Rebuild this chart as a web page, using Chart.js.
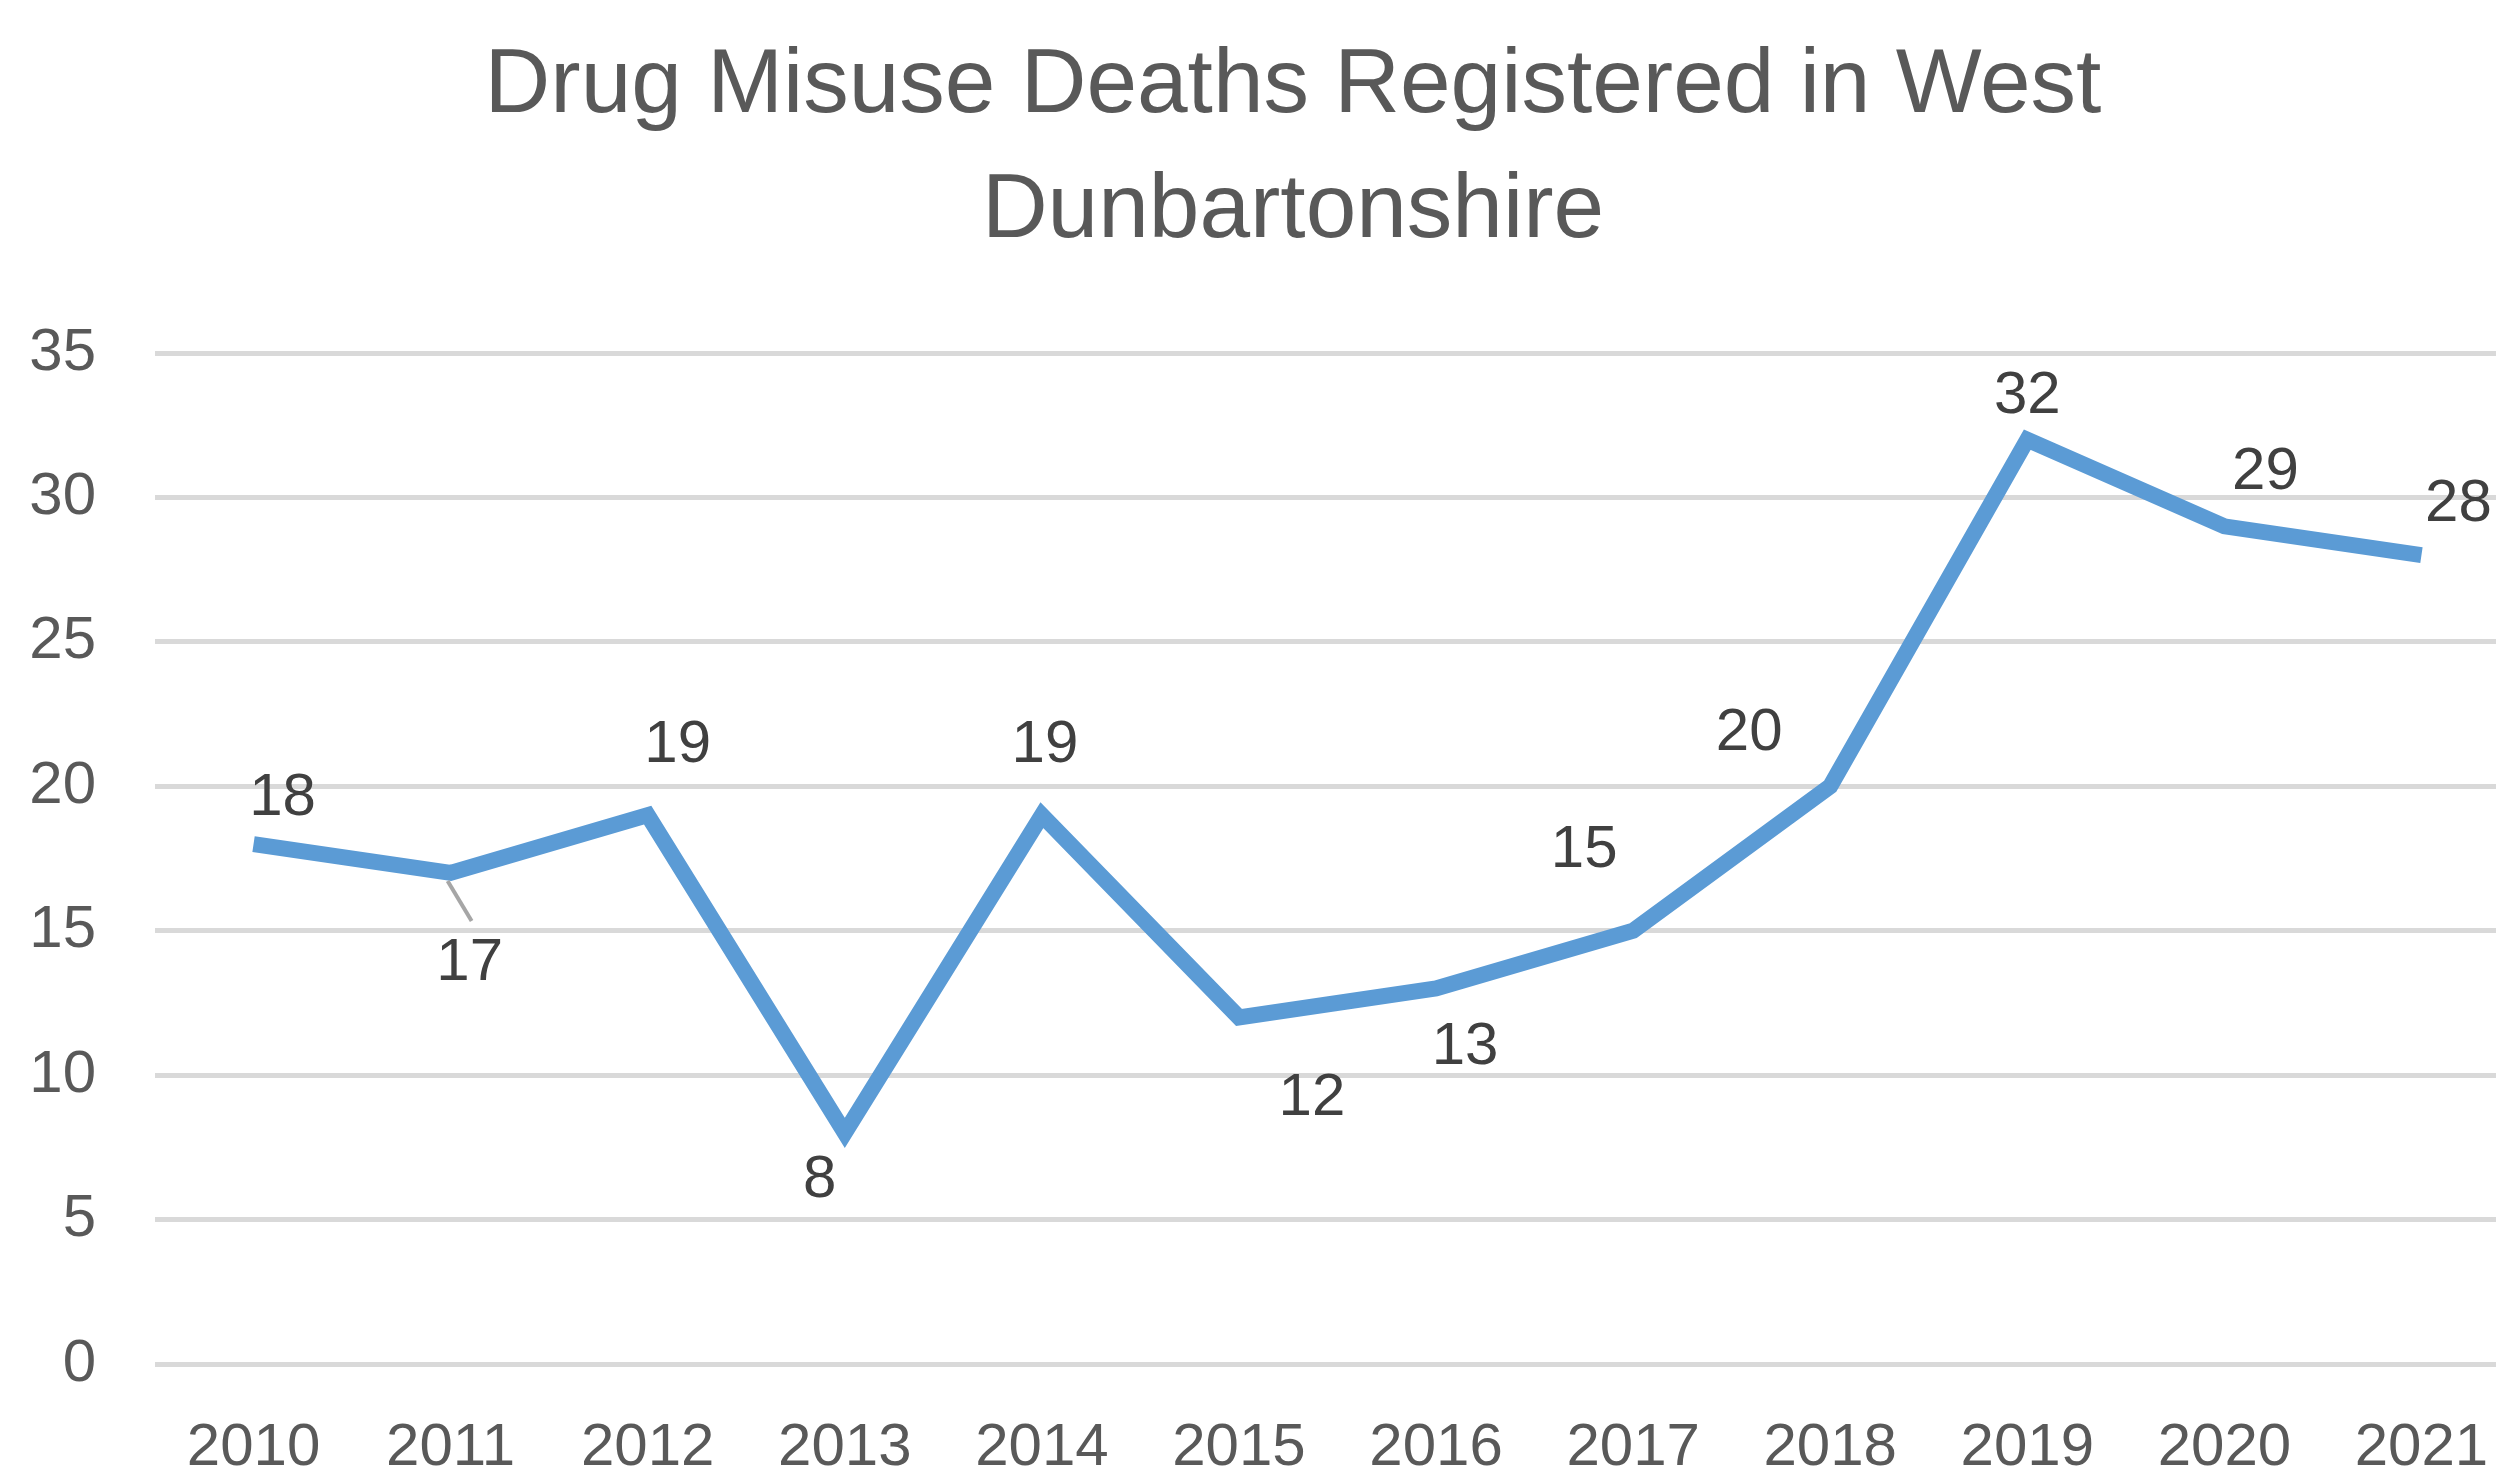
<!DOCTYPE html>
<html>
<head>
<meta charset="utf-8">
<title>Drug Misuse Deaths</title>
<script src="https://cdn.jsdelivr.net/npm/chart.js@4"></script>
<style>
  html, body { margin: 0; padding: 0; background: #fff; overflow: hidden; }
  #wrap { width: 2496px; height: 1475px; overflow: hidden; position: relative; }
  #box { width: 2586px; height: 1475px; position: absolute; left: 0; top: 0; }
</style>
</head>
<body>
<div id="wrap"><div id="box"><canvas id="deathsChart"></canvas></div></div>
<script>
const years = ['2010', '2011', '2012', '2013', '2014', '2015', '2016', '2017', '2018', '2019', '2020', '2021'];
const deaths = [18, 17, 19, 8, 19, 12, 13, 15, 20, 32, 29, 28];
const yTicks = [0, 5, 10, 15, 20, 25, 30, 35];
const titleLines = ['Drug Misuse Deaths Registered in West', 'Dunbartonshire'];

// where each value label sits relative to its point (px), as placed in the original
const labelOffsetX = [29, 19, 30, -25, 3, 73, 29, -49, -81, 0, 41, 37];
const labelOffsetY = [-46, 91, -70, 48, -70, 81, 59, -80, -53, -43, -54, -51];
const leaderFor = [1];

const tickFont = { family: "'Liberation Sans', sans-serif", size: 60 };

// title is centred on the whole (wider, cropped) chart, not on the plot
const chartTitle = {
    id: 'chartTitle',
    afterDraw(chart) {
        const ctx = chart.ctx;
        ctx.save();
        ctx.fillStyle = '#595959';
        ctx.font = "91px 'Liberation Sans', sans-serif";
        ctx.textAlign = 'center';
        ctx.textBaseline = 'alphabetic';
        ctx.fillText(titleLines[0], chart.width / 2, 112);
        ctx.fillText(titleLines[1], chart.width / 2, 237);
        ctx.restore();
    }
};

const valueLabels = {
    id: 'valueLabels',
    afterDatasetsDraw(chart) {
        const ctx = chart.ctx;
        const meta = chart.getDatasetMeta(0);
        ctx.save();
        meta.data.forEach((pt, i) => {
            const lx = pt.x + labelOffsetX[i];
            const ly = pt.y + labelOffsetY[i];
            if (leaderFor.includes(i)) {
                ctx.strokeStyle = '#a6a6a6';
                ctx.lineWidth = 4;
                ctx.beginPath();
                ctx.moveTo(pt.x - 3, pt.y + 8);
                ctx.lineTo(pt.x + 21, pt.y + 48);
                ctx.stroke();
            }
            ctx.fillStyle = '#404040';
            ctx.font = "60px 'Liberation Sans', sans-serif";
            ctx.textAlign = 'center';
            ctx.textBaseline = 'middle';
            ctx.fillText(String(deaths[i]), lx, ly);
        });
        ctx.restore();
    }
};

new Chart(document.getElementById('deathsChart'), {
    type: 'line',
    data: {
        labels: years,
        datasets: [{
            data: deaths,
            borderColor: '#5b9bd5',
            backgroundColor: '#5b9bd5',
            borderWidth: 16,
            pointRadius: 0,
            tension: 0,
            borderJoinStyle: 'miter',
            borderCapStyle: 'butt'
        }]
    },
    options: {
        responsive: true,
        maintainAspectRatio: false,
        animation: false,
        layout: { padding: { left: 0, right: 66, top: 353, bottom: 0 } },
        plugins: {
            legend: { display: false },
            tooltip: { enabled: false },
            title: { display: false }
        },
        scales: {
            x: {
                offset: true,
                grid: { display: false, drawTicks: false },
                border: { display: false },
                ticks: { color: '#595959', font: tickFont, padding: 48, maxRotation: 0, autoSkip: false },
                afterFit(scale) { scale.height = 111; }
            },
            y: {
                min: 0,
                max: 35,
                afterBuildTicks(scale) { scale.ticks = yTicks.map(v => ({ value: v })); },
                grid: { color: '#d9d9d9', lineWidth: 5, drawTicks: false },
                border: { display: false },
                ticks: { color: '#595959', font: tickFont, padding: 59 },
                afterFit(scale) { scale.width = 155; }
            }
        }
    },
    plugins: [valueLabels, chartTitle]
});
</script>
</body>
</html>
